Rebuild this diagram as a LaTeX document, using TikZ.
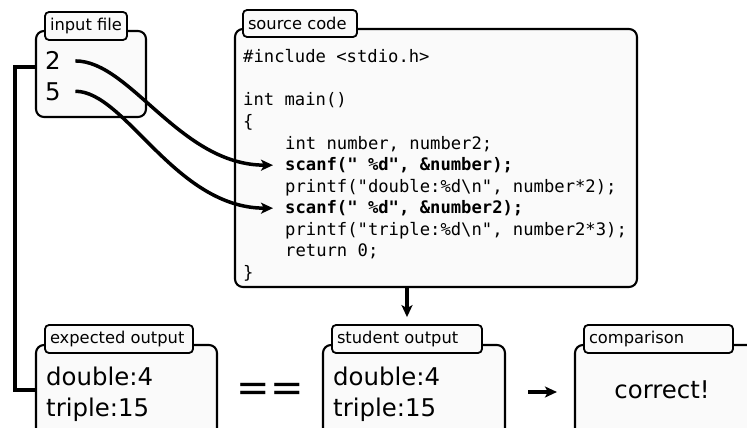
\documentclass[tikz,border=0pt]{standalone}
\usepackage{fontspec}
\setmainfont{DejaVu Sans}
\setmonofont{DejaVu Sans Mono}
\usetikzlibrary{arrows.meta}

% label inside a folder tab, left aligned in a box of fixed width
\newcommand\tabtext[2]{\makebox[#1pt][l]{#2}}

\tikzset{
  panel/.style 2 args={draw, line width=2.1pt, fill=black!2, rounded corners=8pt,
    inner sep=0pt, minimum width=#1pt, minimum height=#2pt},
  tabbox/.style={draw, line width=1.8pt, fill=black!2, rounded corners=4pt,
    minimum height=28pt, inner xsep=5pt, inner ysep=0pt,
    font=\fontsize{16.3}{18}\selectfont},
  bigtxt/.style={inner sep=0pt, anchor=base west, font=\fontsize{24.4}{28}\selectfont},
  codeln/.style={inner sep=0pt, anchor=base west, font=\ttfamily\fontsize{17.2}{21.5}\selectfont},
  codebf/.style={codeln, font=\ttfamily\bfseries\fontsize{17.2}{21.5}\selectfont},
  link/.style={line width=3.5pt},
  flow/.style={link, -{Stealth[length=12pt, width=11pt, inset=3pt]}},
}

\begin{document}
\begin{tikzpicture}[x=1pt, y=-1pt]
  \clip (0,0) rectangle (747,428);

  % input file
  \node[panel={110}{86}] (inbox) at (91,74) {};
  \node[tabbox] (intab) at (86,26) {\tabtext{72}{input file}};
  \node[bigtxt] (two) at (45,70) {2};
  \node[bigtxt] (five) at (45,100) {5};

  % source code
  \node[panel={402}{258}] (src) at (436,158) {};
  \node[tabbox, minimum height=27pt] (srctab) at (300,23.5) {\tabtext{104}{source code}};
  \node[codeln] (c0) at (243,63) {\#include <stdio.h>};
  \node[codeln] (c2) at (243,106) {int main()};
  \node[codeln] (c3) at (243,127.5) {\{};
  \node[codeln] (c4) at (285,149) {int number, number2;};
  \node[codebf] (scanA) at (285,170.5) {scanf(" \%d", \&number);};
  \node[codeln] (c6) at (285,192) {printf("double:\%d\textbackslash n", number*2);};
  \node[codebf] (scanB) at (285,213.5) {scanf(" \%d", \&number2);};
  \node[codeln] (c8) at (285,235) {printf("triple:\%d\textbackslash n", number2*3);};
  \node[codeln] (c9) at (285,256.5) {return 0;};
  \node[codeln] (c10) at (243,278) {\}};

  % expected output
  \node[panel={181}{100}] (exp) at (126.5,395) {};
  \node[tabbox] (exptab) at (119,339) {\tabtext{138}{expected output}};
  \node[bigtxt] (expA) at (46,385) {double:4};
  \node[bigtxt] (expB) at (46,416) {triple:15};

  \node[inner sep=0pt, anchor=base, font=\fontsize{40}{44}\selectfont] (eq) at (270,401) {==};

  % student output
  \node[panel={182}{100}] (stud) at (414,395) {};
  \node[tabbox] (studtab) at (407,339) {\tabtext{140}{student output}};
  \node[bigtxt] (studA) at (333,385) {double:4};
  \node[bigtxt] (studB) at (333,416) {triple:15};

  % comparison
  \node[panel={250}{100}] (cmp) at (700,395) {};
  \node[tabbox] (cmptab) at (658.5,339) {\tabtext{139}{comparison}};
  \node[inner sep=0pt, anchor=base, font=\fontsize{24.4}{28}\selectfont] (verdict) at (662,398) {correct!};

  % connectors
  \draw[flow] ([xshift=14.5pt]two.east) .. controls +(55,0) and +(-93,0) .. ([xshift=-12pt]scanA.west);
  \draw[flow] ([xshift=14.5pt]five.east) .. controls +(50,0) and +(-98,0) .. ([xshift=-12pt]scanB.west);
  \draw[link] ([yshift=7pt]inbox.west) -- ++(-20pt,0) |- ([yshift=5pt]exp.west);
  \draw[flow] (src.south -| studtab.north) -- ([yshift=7pt]studtab.north);
  \draw[flow] ([xshift=22pt,yshift=3pt]stud.east) -- ([xshift=-17pt,yshift=3pt]cmp.west);
\end{tikzpicture}
\end{document}
